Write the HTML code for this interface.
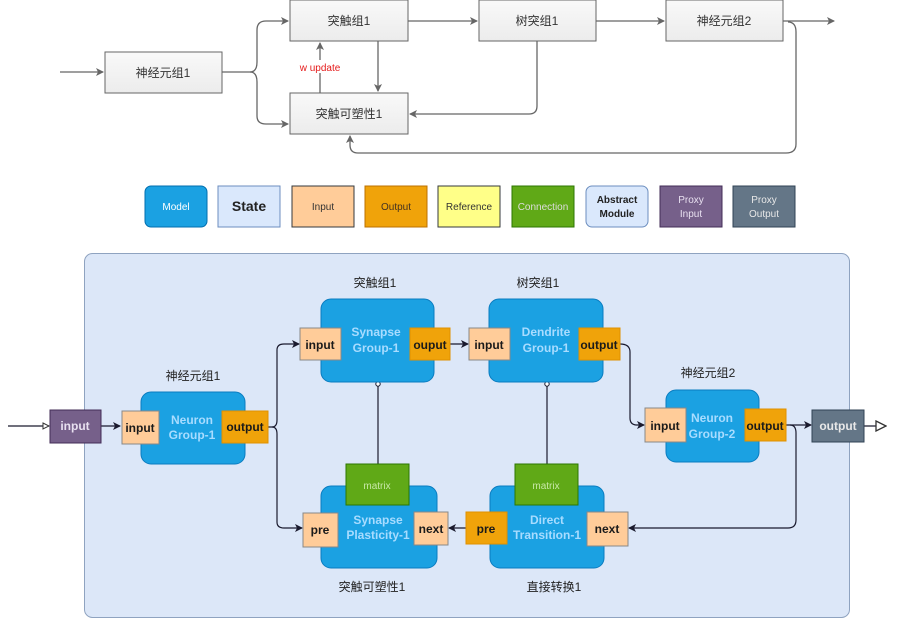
<!DOCTYPE html>
<html><head><meta charset="utf-8"><style>
html,body{margin:0;padding:0;background:#fff;}
svg{display:block;font-family:"Liberation Sans","Noto Sans CJK SC",sans-serif;}
</style></head><body>
<svg width="899" height="621" viewBox="0 0 899 621" xmlns="http://www.w3.org/2000/svg">
<defs>
<marker id="ag" markerWidth="8" markerHeight="8" refX="7" refY="4" orient="auto" markerUnits="userSpaceOnUse"><path d="M0,0 L8,4 L0,8 L2,4 z" fill="#666"/></marker>
<marker id="ak" markerWidth="8" markerHeight="8" refX="7" refY="4" orient="auto" markerUnits="userSpaceOnUse"><path d="M0,0 L8,4 L0,8 L2,4 z" fill="#1a1a2e"/></marker>
<marker id="ao" markerWidth="12" markerHeight="12" refX="11" refY="6" orient="auto" markerUnits="userSpaceOnUse"><path d="M1,1 L11,6 L1,11 z" fill="#fff" stroke="#333" stroke-width="1.3"/></marker>
<marker id="aos" markerWidth="8" markerHeight="8" refX="7" refY="4" orient="auto" markerUnits="userSpaceOnUse"><path d="M1,1 L7,4 L1,7 z" fill="#fff" stroke="#333"/></marker>
<linearGradient id="gb" x1="0" y1="0" x2="0" y2="1"><stop offset="0" stop-color="#f9f9f9"/><stop offset="1" stop-color="#ececec"/></linearGradient>
</defs>

<!-- top diagram -->
<g fill="none" stroke="#666" stroke-width="1.3">
<path d="M60,72 H103" marker-end="url(#ag)"/>
<path d="M222,72 H250 Q257,72 257,62 V30 Q257,21 266,21 H288" marker-end="url(#ag)"/>
<path d="M250,72 Q257,72 257,82 V116 Q257,124 266,124 H288" marker-end="url(#ag)"/>
<path d="M408,21 H477" marker-end="url(#ag)"/>
<path d="M596,21 H664" marker-end="url(#ag)"/>
<path d="M783,21 H834" marker-end="url(#ag)"/>
<path d="M378,41 V91" marker-end="url(#ag)"/>
<path d="M320,93 V43" marker-end="url(#ag)"/>
<path d="M537,41 V106 Q537,114 529,114 H410" marker-end="url(#ag)"/>
<path d="M788,22 Q796,22 796,32 V144 Q796,153 786,153 H358 Q350,153 350,145 V136" marker-end="url(#ag)"/>
</g>
<g stroke="#666" stroke-width="1" fill="url(#gb)">
<rect x="105" y="52" width="117" height="41"/>
<rect x="290" y="0" width="118" height="41"/>
<rect x="479" y="0" width="117" height="41"/>
<rect x="666" y="0" width="117" height="41"/>
<rect x="290" y="93" width="118" height="41"/>
</g>
<g font-size="12" fill="#333" text-anchor="middle">
<text x="163" y="77">神经元组1</text>
<text x="349" y="25">突触组1</text>
<text x="537" y="25">树突组1</text>
<text x="724" y="25">神经元组2</text>
<text x="349" y="118">突触可塑性1</text>
</g>
<rect x="294" y="60" width="52" height="13" fill="#fff"/>
<text x="320" y="71" font-size="10" fill="#e51a1a" text-anchor="middle">w update</text>

<!-- legend -->
<rect x="145" y="186" width="62" height="41" rx="6" fill="#1ba1e2" stroke="#006eaf"/>
<text x="176" y="210" font-size="10" fill="#fff" text-anchor="middle">Model</text>
<rect x="218" y="186" width="62" height="41" fill="#dae8fc" stroke="#6c8ebf"/>
<text x="249" y="211" font-size="14" font-weight="bold" fill="#222" text-anchor="middle">State</text>
<rect x="292" y="186" width="62" height="41" fill="#ffcc99" stroke="#36393d"/>
<text x="323" y="210" font-size="10" fill="#333" text-anchor="middle">Input</text>
<rect x="365" y="186" width="62" height="41" fill="#f0a30a" stroke="#bd7000"/>
<text x="396" y="210" font-size="10" fill="#432" text-anchor="middle">Output</text>
<rect x="438" y="186" width="62" height="41" fill="#ffff88" stroke="#36393d"/>
<text x="469" y="210" font-size="10" fill="#333" text-anchor="middle">Reference</text>
<rect x="512" y="186" width="62" height="41" fill="#60a917" stroke="#2d7600"/>
<text x="543" y="210" font-size="10" fill="#ddd" text-anchor="middle">Connection</text>
<rect x="586" y="186" width="62" height="41" rx="6" fill="#dae8fc" stroke="#6c8ebf"/>
<text x="617" y="203" font-size="10" font-weight="bold" fill="#222" text-anchor="middle">Abstract</text>
<text x="617" y="217" font-size="10" font-weight="bold" fill="#222" text-anchor="middle">Module</text>
<rect x="660" y="186" width="62" height="41" fill="#76608a" stroke="#432d57"/>
<text x="691" y="203" font-size="10" fill="#e8e0f0" text-anchor="middle">Proxy</text>
<text x="691" y="217" font-size="10" fill="#e8e0f0" text-anchor="middle">Input</text>
<rect x="733" y="186" width="62" height="41" fill="#647687" stroke="#314354"/>
<text x="764" y="203" font-size="10" fill="#e8e8e8" text-anchor="middle">Proxy</text>
<text x="764" y="217" font-size="10" fill="#e8e8e8" text-anchor="middle">Output</text>

<!-- panel -->
<rect x="84.5" y="253.5" width="765" height="364" rx="8" fill="#dce7f8" stroke="#8fa3c0"/>

<!-- connectors -->
<g fill="none" stroke="#1a1a2e" stroke-width="1.2">
<path d="M8,426 H49" marker-end="url(#aos)"/>
<path d="M101,426 H120" marker-end="url(#ak)"/>
<path d="M268,427 H272 Q277,427 277,420 V350 Q277,344 284,344 H299" marker-end="url(#ak)"/>
<path d="M272,427 Q277,427 277,434 V522 Q277,528 284,528 H302" marker-end="url(#ak)"/>
<path d="M450,344 H468" marker-end="url(#ak)"/>
<path d="M620,344 Q630,344 630,352 V418 Q630,425 637,425 H644" marker-end="url(#ak)"/>
<path d="M786,425 H811" marker-end="url(#ak)"/>
<path d="M864,426 H886" marker-end="url(#ao)"/>
<path d="M790,425 Q796,425 796,433 V520 Q796,528 788,528 H629" marker-end="url(#ak)"/>
<path d="M466,528 H449" marker-end="url(#ak)"/>
<path d="M378,464 V386"/>
<path d="M547,464 V386"/>
</g>
<circle cx="378" cy="384" r="2.2" fill="#fff" stroke="#1a1a2e"/>
<circle cx="547" cy="384" r="2.2" fill="#fff" stroke="#1a1a2e"/>

<!-- blue modules -->
<g fill="#1ba1e2" stroke="#0a7cc0">
<rect x="141" y="392" width="104" height="72" rx="10"/>
<rect x="321" y="299" width="113" height="83" rx="10"/>
<rect x="489" y="299" width="114" height="83" rx="10"/>
<rect x="666" y="390" width="93" height="72" rx="10"/>
<rect x="321" y="486" width="116" height="82" rx="10"/>
<rect x="490" y="486" width="114" height="82" rx="10"/>
</g>
<g font-size="12" font-weight="bold" fill="#a8dcff" text-anchor="middle">
<text x="192" y="424">Neuron</text><text x="192" y="439">Group-1</text>
<text x="376" y="336">Synapse</text><text x="376" y="352">Group-1</text>
<text x="546" y="336">Dendrite</text><text x="546" y="352">Group-1</text>
<text x="712" y="422">Neuron</text><text x="712" y="438">Group-2</text>
<text x="378" y="524">Synapse</text><text x="378" y="539">Plasticity-1</text>
<text x="547" y="524">Direct</text><text x="547" y="539">Transition-1</text>
</g>

<!-- matrices -->
<rect x="346" y="464" width="63" height="41" fill="#60a917" stroke="#2d7600"/>
<text x="377" y="489" font-size="10" fill="#c8e8a8" text-anchor="middle">matrix</text>
<rect x="515" y="464" width="63" height="41" fill="#60a917" stroke="#2d7600"/>
<text x="546" y="489" font-size="10" fill="#c8e8a8" text-anchor="middle">matrix</text>

<!-- ports -->
<g stroke="#888" stroke-width="1">
<rect x="122" y="411" width="37" height="33" fill="#ffcc99"/>
<rect x="222" y="411" width="46" height="32" fill="#f0a30a" stroke="#e09000"/>
<rect x="300" y="328" width="41" height="32" fill="#ffcc99"/>
<rect x="410" y="328" width="40" height="32" fill="#f0a30a" stroke="#e09000"/>
<rect x="469" y="328" width="41" height="32" fill="#ffcc99"/>
<rect x="579" y="328" width="41" height="32" fill="#f0a30a" stroke="#e09000"/>
<rect x="645" y="408" width="41" height="34" fill="#ffcc99"/>
<rect x="745" y="409" width="41" height="32" fill="#f0a30a" stroke="#e09000"/>
<rect x="303" y="513" width="35" height="34" fill="#ffcc99"/>
<rect x="414" y="512" width="34" height="33" fill="#ffcc99"/>
<rect x="466" y="512" width="41" height="32" fill="#f0a30a" stroke="#e09000"/>
<rect x="587" y="512" width="41" height="34" fill="#ffcc99"/>
</g>
<g font-size="12" font-weight="bold" fill="#1a1a1a" text-anchor="middle">
<text x="140" y="432">input</text>
<text x="245" y="431">output</text>
<text x="320" y="349">input</text>
<text x="430" y="349">ouput</text>
<text x="489" y="349">input</text>
<text x="599" y="349">output</text>
<text x="665" y="430">input</text>
<text x="765" y="430">output</text>
<text x="320" y="534">pre</text>
<text x="431" y="533">next</text>
<text x="486" y="533">pre</text>
<text x="607" y="533">next</text>
</g>

<!-- proxies -->
<rect x="50" y="410" width="51" height="33" fill="#76608a" stroke="#432d57"/>
<text x="75" y="430" font-size="12" font-weight="bold" fill="#e8e0f0" text-anchor="middle">input</text>
<rect x="812" y="410" width="52" height="32" fill="#647687" stroke="#314354"/>
<text x="838" y="430" font-size="12" font-weight="bold" fill="#e8e8e8" text-anchor="middle">output</text>

<!-- labels -->
<g font-size="12" fill="#222" text-anchor="middle">
<text x="193" y="380">神经元组1</text>
<text x="375" y="287">突触组1</text>
<text x="538" y="287">树突组1</text>
<text x="708" y="377">神经元组2</text>
<text x="372" y="591">突触可塑性1</text>
<text x="554" y="591">直接转换1</text>
</g>
</svg>
</body></html>
